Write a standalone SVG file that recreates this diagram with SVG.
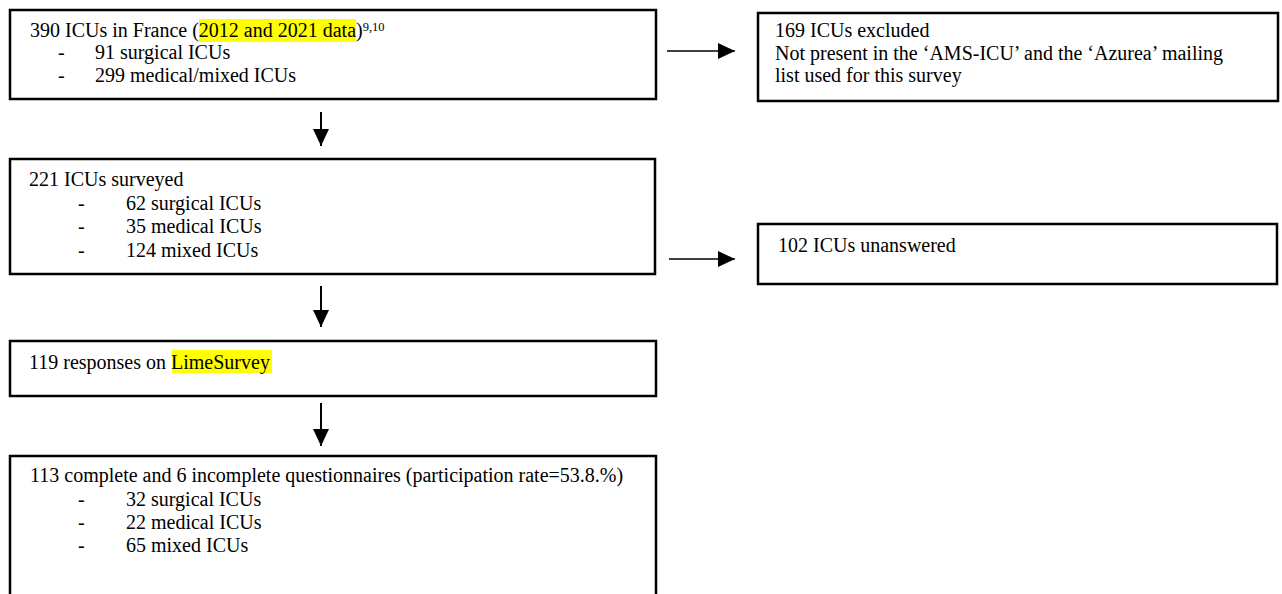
<svg xmlns="http://www.w3.org/2000/svg" width="1282" height="594" viewBox="0 0 1282 594">
<style>
.box{fill:#fff;stroke:#000;stroke-width:2.5}
.t{font-family:"Liberation Serif","Times New Roman",serif;font-size:20px;fill:#000}
.sup{font-size:12.5px}
.hl{fill:#ffff00}
.ch{stroke:#000;stroke-width:1.4;fill:none}
.cv{stroke:#000;stroke-width:2;fill:none}
</style>
<defs>
<marker id="ah" markerUnits="userSpaceOnUse" markerWidth="17" markerHeight="16" refX="17" refY="8" orient="auto" viewBox="0 0 17 16">
<path d="M0,0 L17,8 L0,16 z" fill="#000"/>
</marker>
</defs>
<rect width="1282" height="594" fill="#fff"/>
<g id="connectors">
<line class="ch" x1="667" y1="51" x2="735" y2="51" marker-end="url(#ah)"/>
<line class="ch" x1="669" y1="259" x2="735" y2="259" marker-end="url(#ah)"/>
<line class="cv" x1="321" y1="112" x2="321" y2="146" marker-end="url(#ah)"/>
<line class="cv" x1="321" y1="286" x2="321" y2="327" marker-end="url(#ah)"/>
<line class="cv" x1="321" y1="403" x2="321" y2="446" marker-end="url(#ah)"/>
</g>
<g id="n1">
<rect class="box" x="10" y="10" width="646" height="89"/>
<rect class="hl" x="199" y="19" width="157" height="23"/>
<text class="t" x="30" y="37">390 ICUs in France (2012 and 2021 data)<tspan class="sup" dy="-6">9,10</tspan></text>
<text class="t" x="58" y="59">-</text>
<text class="t" x="95" y="59">91 surgical ICUs</text>
<text class="t" x="58" y="82">-</text>
<text class="t" x="95" y="82">299 medical/mixed ICUs</text>
</g>
<g id="n2">
<rect class="box" x="758" y="13" width="520" height="88"/>
<text class="t" x="775" y="37">169 ICUs excluded</text>
<text class="t" x="775" y="60">Not present in the ‘AMS-ICU’ and the ‘Azurea’ mailing</text>
<text class="t" x="775" y="82">list used for this survey</text>
</g>
<g id="n3">
<rect class="box" x="10" y="159" width="645" height="115"/>
<text class="t" x="29" y="186">221 ICUs surveyed</text>
<text class="t" x="78" y="210">-</text>
<text class="t" x="126" y="210">62 surgical ICUs</text>
<text class="t" x="78" y="233">-</text>
<text class="t" x="126" y="233">35 medical ICUs</text>
<text class="t" x="78" y="257">-</text>
<text class="t" x="126" y="257">124 mixed ICUs</text>
</g>
<g id="n4">
<rect class="box" x="758" y="224" width="519" height="60"/>
<text class="t" x="778" y="252">102 ICUs unanswered</text>
</g>
<g id="n5">
<rect class="box" x="10" y="341" width="646" height="55"/>
<rect class="hl" x="172" y="350" width="100" height="23"/>
<text class="t" x="29" y="369">119 responses on LimeSurvey</text>
</g>
<g id="n6">
<rect class="box" x="10" y="456" width="646" height="160"/>
<text class="t" x="30" y="482">113 complete and 6 incomplete questionnaires (participation rate=53.8.%)</text>
<text class="t" x="78" y="506">-</text>
<text class="t" x="126" y="506">32 surgical ICUs</text>
<text class="t" x="78" y="529">-</text>
<text class="t" x="126" y="529">22 medical ICUs</text>
<text class="t" x="78" y="552">-</text>
<text class="t" x="126" y="552">65 mixed ICUs</text>
</g>
</svg>
